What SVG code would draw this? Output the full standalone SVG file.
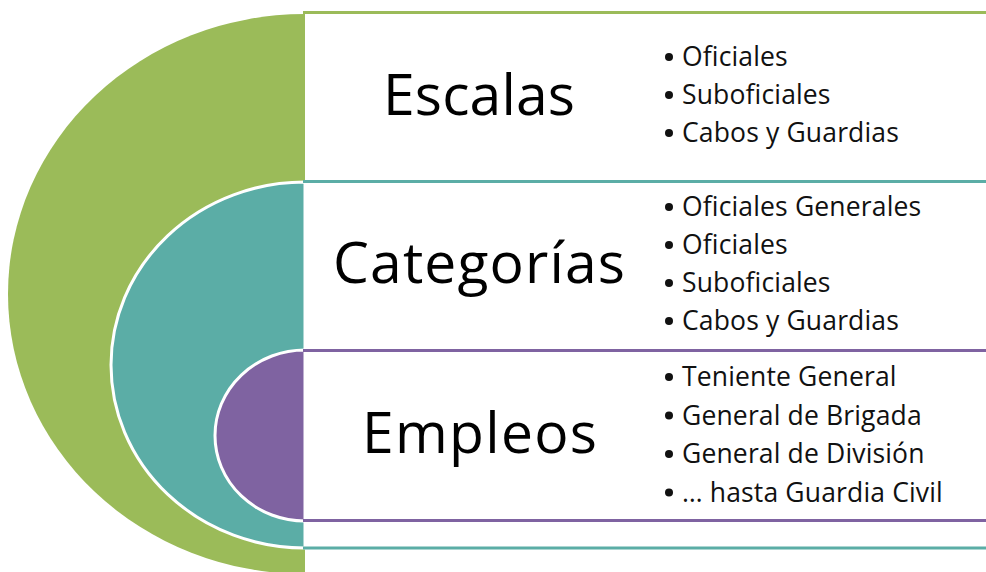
<svg xmlns="http://www.w3.org/2000/svg" width="986" height="572" viewBox="0 0 986 572">
<style>
.big{font-family:"Open Sans","Noto Sans",sans-serif;font-size:57px;fill:#000}
.item{font-family:"Open Sans","Noto Sans",sans-serif;font-size:26.5px;letter-spacing:0.15px;fill:#111}
.box{fill:#fff}
.shape{stroke:#fff;stroke-width:3}
</style>
<rect width="986" height="572" fill="#fff"/>
<g id="node-escalas">
  <path d="M305,14 A297,280 0 0 0 305,574 Z" fill="#9BBB59"/>
  <rect class="box" x="305" y="12" width="681" height="562"/>
  <line x1="303" y1="12.5" x2="986" y2="12.5" stroke="#9BBB59" stroke-width="3"/>
  <text class="big" x="383" y="115" textLength="192">Escalas</text>
  <g fill="#111"><circle cx="669" cy="57" r="4"/><circle cx="669" cy="95" r="4"/><circle cx="669" cy="133" r="4"/></g>
  <text class="item" x="682" y="66">Oficiales</text>
  <text class="item" x="682" y="104">Suboficiales</text>
  <text class="item" x="682" y="142">Cabos y Guardias</text>
</g>
<g id="node-categorias">
  <path class="shape" d="M305,182 A194,183 0 0 0 305,548 Z" fill="#5BADA6"/>
  <rect class="box" x="305" y="181.5" width="681" height="366.5"/>
  <line x1="303" y1="181.5" x2="986" y2="181.5" stroke="#5BADA6" stroke-width="3"/>
  <line x1="303" y1="548" x2="986" y2="548" stroke="#5BADA6" stroke-width="3"/>
  <text class="big" x="333" y="283" textLength="292">Categorías</text>
  <g fill="#111"><circle cx="669" cy="207" r="4"/><circle cx="669" cy="245" r="4"/><circle cx="669" cy="283" r="4"/><circle cx="669" cy="321" r="4"/></g>
  <text class="item" x="682" y="216">Oficiales Generales</text>
  <text class="item" x="682" y="254">Oficiales</text>
  <text class="item" x="682" y="292">Suboficiales</text>
  <text class="item" x="682" y="330">Cabos y Guardias</text>
</g>
<g id="node-empleos">
  <path class="shape" d="M305,350 A90,85.5 0 0 0 305,521 Z" fill="#7F63A1"/>
  <rect class="box" x="305" y="350.5" width="681" height="170"/>
  <line x1="303" y1="350.5" x2="986" y2="350.5" stroke="#7F63A1" stroke-width="3"/>
  <line x1="303" y1="520.5" x2="986" y2="520.5" stroke="#7F63A1" stroke-width="3"/>
  <text class="big" x="362" y="453" textLength="235">Empleos</text>
  <g fill="#111"><circle cx="669" cy="377" r="4"/><circle cx="669" cy="415.5" r="4"/><circle cx="669" cy="454" r="4"/><circle cx="669" cy="492.5" r="4"/></g>
  <text class="item" x="682" y="386">Teniente General</text>
  <text class="item" x="682" y="424.5">General de Brigada</text>
  <text class="item" x="682" y="463">General de División</text>
  <text class="item" x="682" y="501.5">… hasta Guardia Civil</text>
</g>
<g id="connectors"></g>
</svg>
